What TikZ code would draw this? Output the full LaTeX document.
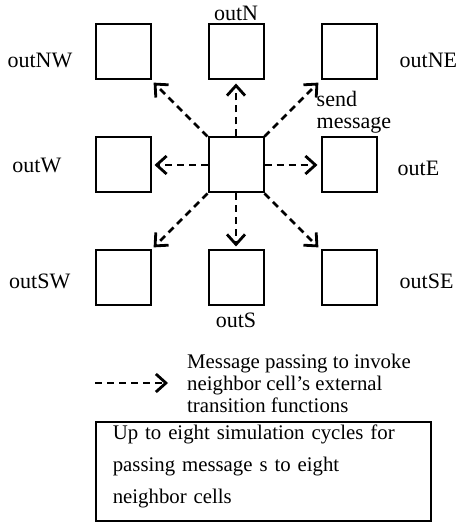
\documentclass[tikz,border=0pt]{standalone}
\usepackage{fontspec}
\setmainfont{Liberation Serif}
\usetikzlibrary{arrows.meta,positioning}

\begin{document}
\begin{tikzpicture}[x=1pt, y=1pt, node distance=56pt,
    lbl/.style={inner sep=0pt, font=\fontsize{22}{22}\selectfont},
    msg/.style={draw=black, line width=2.8pt, dash pattern=on 7pt off 5pt,
      -{Straight Barb[length=10pt,width=18pt]}}]
  \useasboundingbox (0,0) rectangle (463,522);
  \begin{scope}[every node/.style={draw, line width=2pt, minimum size=55pt, inner sep=0pt}]
    \node (c) at (236,357) {};
    \node (n) [above=of c] {};
    \node (s) [below=of c] {};
    \node (w) [left=of c] {};
    \node (e) [right=of c] {};
    \node (nw) [above left=56pt and 56pt of c] {};
    \node (ne) [above right=56pt and 56pt of c] {};
    \node (sw) [below left=56pt and 56pt of c] {};
    \node (se) [below right=56pt and 56pt of c] {};
  \end{scope}
  % cell names
  \node[lbl] (lN) [above=3pt of n] {outN};
  \node[lbl] (lS) [below=6pt of s] {outS};
  \node[lbl] (lW) [left=33pt of w] {outW};
  \node[lbl] (lE) [right=20pt of e, yshift=-3pt] {outE};
  \node[lbl] (lNW) [left=22pt of nw, yshift=-8pt] {outNW};
  \node[lbl] (lNE) [right=22pt of ne, yshift=-8pt] {outNE};
  \node[lbl] (lSW) [left=24pt of sw, yshift=-3pt] {outSW};
  \node[lbl] (lSE) [right=22pt of se, yshift=-3pt] {outSE};
  \node[lbl, align=left, anchor=north west] (send) at ([xshift=-4pt,yshift=-11pt]ne.south west) {send\\message};
  \begin{scope}[every edge/.style={msg, shorten >=3pt}]
    \path (c.north west) edge (nw.south east);
    \path (c.north) edge (n.south);
    \path (c.north east) edge (ne.south west);
    \path (c.west) edge (w.east);
    \path (c.east) edge (e.west);
    \path (c.south west) edge (sw.north east);
    \path (c.south) edge (s.north);
    \path (c.south east) edge (se.north west);
  \end{scope}
  % legend
  \coordinate (ks) at (95,139);
  \coordinate (ke) at (168,139);
  \draw[msg] (ks) -- (ke);
  \node[lbl, align=left, anchor=north west, font=\fontsize{20.8}{22}\selectfont] (keytxt) at (187,168)
    {Message passing to invoke\\neighbor cell's external\\transition functions};
  \node[draw, line width=1.6pt, anchor=north west, text width=301pt, inner xsep=17pt, inner ysep=0pt,
    align=left, font=\fontsize{20.8}{32}\selectfont] (note) at (95,101)
    {\rule{0pt}{18pt}Up to eight simulation cycles for\\passing message s to eight\\\rule[-17pt]{0pt}{17pt}neighbor cells};
\end{tikzpicture}
\end{document}
